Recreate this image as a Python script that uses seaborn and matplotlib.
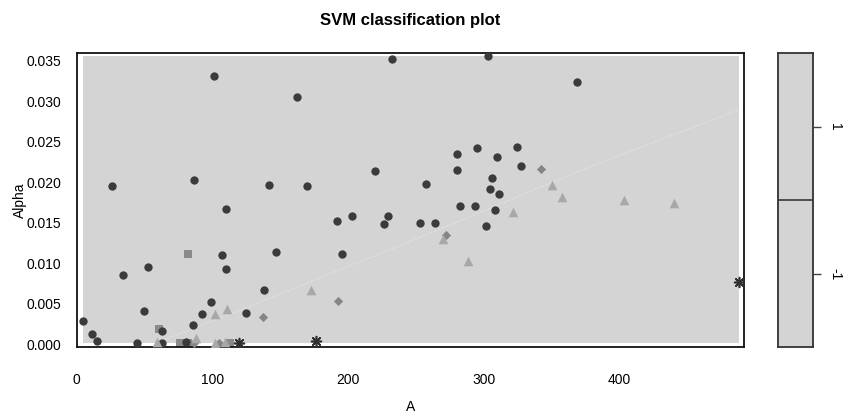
import matplotlib
matplotlib.use("Agg")
import matplotlib.pyplot as plt
from matplotlib.patches import Rectangle
import pandas as pd
import seaborn as sns

# ---- data ----
circle_A = [101.2, 26.1, 86.2, 110.0, 106.8, 109.8, 34.2, 52.4, 98.7, 49.7, 92.6, 124.5,
            4.8, 11.0, 15.1, 44.5, 86.0, 62.7, 62.7, 80.9, 232.2, 162.0, 219.6, 141.9,
            169.6, 192.0, 202.5, 229.5, 226.3, 253.0, 146.8, 195.7, 138.2, 303.1, 369.0,
            294.7, 324.4, 280.3, 309.9, 327.6, 280.3, 257.2, 305.7, 304.8, 311.4, 282.2,
            293.7, 308.5, 264.3, 301.8]
circle_alpha = [0.0331, 0.01955, 0.02025, 0.01667, 0.01103, 0.00926, 0.00852, 0.00955,
                0.00515, 0.00403, 0.00367, 0.00379, 0.0028, 0.00128, 0.00033, 0.00012,
                0.0023, 0.0016, 0.0001, 0.0002, 0.0352, 0.03047, 0.0214, 0.01968,
                0.01947, 0.01515, 0.0158, 0.01585, 0.01478, 0.01499, 0.01132, 0.01111,
                0.0067, 0.0356, 0.0323, 0.02424, 0.02433, 0.02347, 0.02313, 0.02202,
                0.02145, 0.0198, 0.0205, 0.0191, 0.01856, 0.01708, 0.01708, 0.01655,
                0.01498, 0.01457]

triangle_A = [101.9, 110.7, 59.2, 87.9, 101.7, 109.3, 172.3, 350.4, 357.5, 321.5, 269.7,
              288.4, 403.4, 440.2]
triangle_alpha = [0.0037, 0.00428, 0.0003, 0.0008, 0.0001, 0.0002, 0.00667, 0.0196,
                  0.01819, 0.01626, 0.01297, 0.01025, 0.01778, 0.01745]

diamond_A = [86.2, 104.9, 137.5, 192.7, 341.8, 272.2]
diamond_alpha = [0.0001, 0.0001, 0.00337, 0.00535, 0.02161, 0.01346]

square_A = [82.0, 60.3, 75.9, 82.0, 113.0]
square_alpha = [0.0111, 0.0019, 0.0001, 0.0001, 0.0001]

star_A = [119.6, 176.5, 488.2]
star_alpha = [0.0001, 0.00037, 0.00762]

boundary_A = [58.0, 120.8, 253.3, 378.4, 487.3]
boundary_alpha = [0.0001, 0.0042, 0.0132, 0.0219, 0.0289]

x_ticks = [0, 100, 200, 300, 400]
y_ticks = [0.000, 0.005, 0.010, 0.015, 0.020, 0.025, 0.030, 0.035]
key_levels = ["-1", "1"]

sns.set_style("white")
plt.rcParams['font.family'] = ['Liberation Sans', 'DejaVu Sans']
plt.rcParams['text.color'] = 'black'
plt.rcParams['axes.labelcolor'] = 'black'
plt.rcParams['xtick.color'] = 'black'
plt.rcParams['ytick.color'] = 'black'

W, H = 848, 413
fig = plt.figure(figsize=(W / 100, H / 100), dpi=100)
ax = fig.add_axes([76.7 / W, 1 - 347 / H, (744 - 76.7) / W, (347 - 53) / H])

all_A = circle_A + triangle_A + diamond_A + square_A + star_A
all_alpha = circle_alpha + triangle_alpha + diamond_alpha + square_alpha + star_alpha
xmin, xmax = min(all_A), max(all_A)
ymin, ymax = min(all_alpha), max(all_alpha)

ax.add_patch(Rectangle((xmin, ymin), xmax - xmin, ymax - ymin,
                       facecolor="#d4d4d4", edgecolor="none", zorder=0))
ax.plot(boundary_A, boundary_alpha, color="#dfdfdf", lw=1.0,
        linestyle=(0, (2, 1)), zorder=1)

def df(a, b):
    return pd.DataFrame({"A": a, "Alpha": b})

sns.scatterplot(data=df(square_A, square_alpha), x="A", y="Alpha", marker="s",
                color="#8a8a8a", s=28, linewidth=0, ax=ax, zorder=2)
sns.scatterplot(data=df(circle_A, circle_alpha), x="A", y="Alpha", marker="o",
                color="#3b3b3b", s=36, linewidth=0, ax=ax, zorder=3)
sns.scatterplot(data=df(diamond_A, diamond_alpha), x="A", y="Alpha", marker="D",
                color="#858585", s=22, linewidth=0, ax=ax, zorder=4)
sns.scatterplot(data=df(triangle_A, triangle_alpha), x="A", y="Alpha", marker="^",
                color="#a8a8a8", s=48, linewidth=0, ax=ax, zorder=5)
sns.scatterplot(data=df(star_A, star_alpha), x="A", y="Alpha", marker=(8, 2, 0),
                color="#303030", edgecolor="#303030", s=50, linewidth=1.2, ax=ax, zorder=6)

ax.set_xlim((76.7 - 75.8) / 1.359, (744 - 75.8) / 1.359)
ax.set_ylim(-0.00037, 0.03594)
ax.set_xticks(x_ticks)
ax.set_xticklabels([str(t) for t in x_ticks])
ax.set_yticks(y_ticks)
ax.set_yticklabels([f"{t:.3f}" for t in y_ticks])
ax.tick_params(axis="both", direction="out", length=6.5, width=1, color="black",
               labelsize=10, labelcolor="black")
ax.tick_params(axis="x", pad=12)
ax.tick_params(axis="y", pad=4.5)
for sp in ax.spines.values():
    sp.set_linewidth(1.3)
    sp.set_color("#111111")

ax.set_xlabel("A", fontsize=10, color="black")
ax.set_ylabel("Alpha", fontsize=10, color="black")
ax.xaxis.set_label_coords(0.5, -0.18)
ax.yaxis.set_label_coords(-0.075, 0.5)
ax.set_title("SVM classification plot", fontsize=12, fontweight="bold", pad=20,
             color="black")

# color key
kax = fig.add_axes([778.3 / W, 1 - 347.3 / H, 34.4 / W, 294 / H])
kax.set_facecolor("#d4d4d4")
kax.set_xlim(0, 1)
kax.set_ylim(0, 2)
kax.axhline(1, color="#444444", lw=1.3)
kax.set_xticks([])
kax.set_yticks([0.5, 1.5])
kax.set_yticklabels(key_levels, rotation=270, va="center")
kax.yaxis.tick_right()
kax.tick_params(axis="y", direction="out", length=6, width=1, color="#444444",
                labelsize=10, pad=5, labelcolor="black")
for sp in kax.spines.values():
    sp.set_linewidth(1.3)
    sp.set_color("#333333")

fig.savefig("out.png", dpi=100)
